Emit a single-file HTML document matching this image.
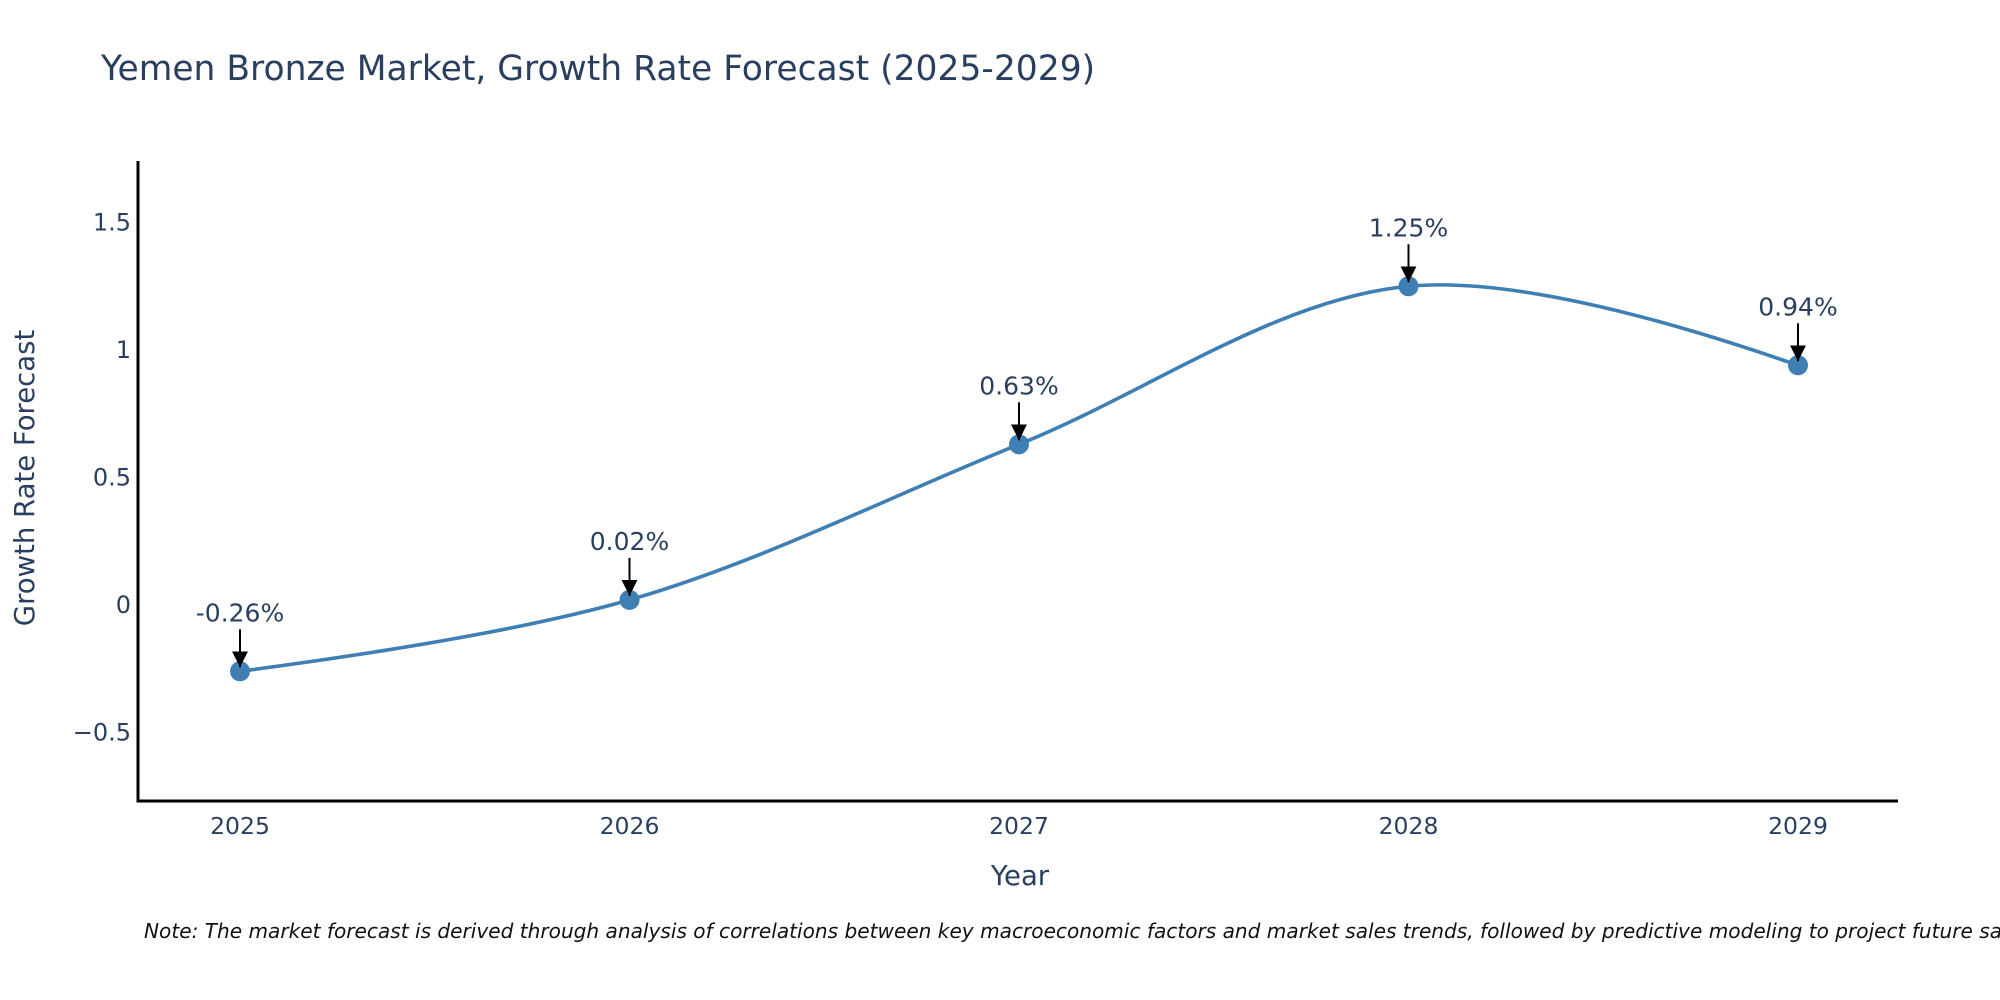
<!DOCTYPE html>
<html><head><meta charset="utf-8"><style>
body{margin:0;background:#fff}
svg{display:block;font-family:"DejaVu Sans","Liberation Sans",sans-serif}
</style></head><body>
<svg id="chart" width="2000" height="1000">
<text x="101" y="80" font-size="34.5" fill="#2a3f5f">Yemen Bronze Market, Growth Rate Forecast (2025-2029)</text>
<g id="plot"></g>
<text x="1020" y="885" font-size="27.5" fill="#2a3f5f" text-anchor="middle">Year</text>
<text transform="translate(34,478) rotate(-90)" font-size="27.5" fill="#2a3f5f" text-anchor="middle">Growth Rate Forecast</text>
<text x="144" y="938" font-size="20.1" font-style="italic" fill="#111">Note: The market forecast is derived through analysis of correlations between key macroeconomic factors and market sales trends, followed by predictive modeling to project future sales.</text>
</svg>
<script>
const years = [2025, 2026, 2027, 2028, 2029];
const growth = [-0.26, 0.02, 0.63, 1.25, 0.94];
const labels = ["-0.26%", "0.02%", "0.63%", "1.25%", "0.94%"];
const yTicks = [-0.5, 0, 0.5, 1, 1.5];
const yTickLabels = ["\u22120.5", "0", "0.5", "1", "1.5"];

const NS = "http://www.w3.org/2000/svg";
const g = document.getElementById("plot");
const X0 = 138, X1 = 1898, Y0 = 161, Y1 = 801;
const xs = v => 240 + (v - 2025) * (1798 - 240) / 4;
const ys = v => 605 - v * 255;
function mk(t, a, p) { const e = document.createElementNS(NS, t); for (const k in a) e.setAttribute(k, a[k]); (p || g).appendChild(e); return e; }

const defs = mk("defs", {});
const mkr = mk("marker", {id: "ah", viewBox: "0 0 10 10", refX: "10", refY: "5", markerWidth: "16", markerHeight: "16", orient: "auto", markerUnits: "userSpaceOnUse"}, defs);
mk("path", {d: "M0,0 L10,5 L0,10 z", fill: "#000"}, mkr);

yTicks.forEach((v, i) => {
  const t = mk("text", {x: 131, y: ys(v) + 8, "font-size": 24, fill: "#2a3f5f", "text-anchor": "end"});
  t.textContent = yTickLabels[i];
  
  
});
years.forEach(v => {
  const t = mk("text", {x: xs(v), y: 834, "font-size": 23.5, fill: "#2a3f5f", "text-anchor": "middle"});
  t.textContent = String(v);
  
  
});
const ya = mk("line", {x1: X0, y1: Y0, x2: X0, y2: Y1 + 1.5, stroke: "#000", "stroke-width": 3});


const xa = mk("line", {x1: X0 - 1.5, y1: Y1, x2: X1, y2: Y1, stroke: "#000", "stroke-width": 3});



const pts = years.map((y, i) => [xs(y), ys(growth[i])]);
function tang(a, b, c, s) {
  const d1x = a[0] - b[0], d1y = a[1] - b[1], d2x = c[0] - b[0], d2y = c[1] - b[1];
  const d1a = Math.pow(d1x * d1x + d1y * d1y, 0.25), d2a = Math.pow(d2x * d2x + d2y * d2y, 0.25);
  const nx = (d2a * d2a * d1x - d1a * d1a * d2x) * s, ny = (d2a * d2a * d1y - d1a * d1a * d2y) * s;
  const den1 = 3 * d2a * (d1a + d2a), den2 = 3 * d1a * (d1a + d2a);
  return [[b[0] + nx / den1, b[1] + ny / den1], [b[0] - nx / den2, b[1] - ny / den2]];
}
const T = [];
for (let i = 1; i < pts.length - 1; i++) T.push(tang(pts[i - 1], pts[i], pts[i + 1], 1));
let d = "M" + pts[0] + "Q" + T[0][0] + " " + pts[1];
for (let i = 2; i < pts.length - 1; i++) d += "C" + T[i - 2][1] + " " + T[i - 1][0] + " " + pts[i];
d += "Q" + T[T.length - 1][1] + " " + pts[pts.length - 1];
const line = mk("path", {d: d, fill: "none", stroke: "#3f7fb3", "stroke-width": 3.6});



pts.forEach((p, i) => {
  const c = mk("circle", {cx: p[0], cy: p[1], r: 10, fill: "#3f7fb3"});
  
  
  const a = mk("line", {x1: p[0], y1: p[1] - 42, x2: p[0], y2: p[1] - 4, stroke: "#000", "stroke-width": 2, "marker-end": "url(#ah)"});
  
  
  const t = mk("text", {x: p[0], y: p[1] - 50, "font-size": 25, fill: "#2a3f5f", "text-anchor": "middle"});
  t.textContent = labels[i];
  
  
});
</script>
</body></html>
